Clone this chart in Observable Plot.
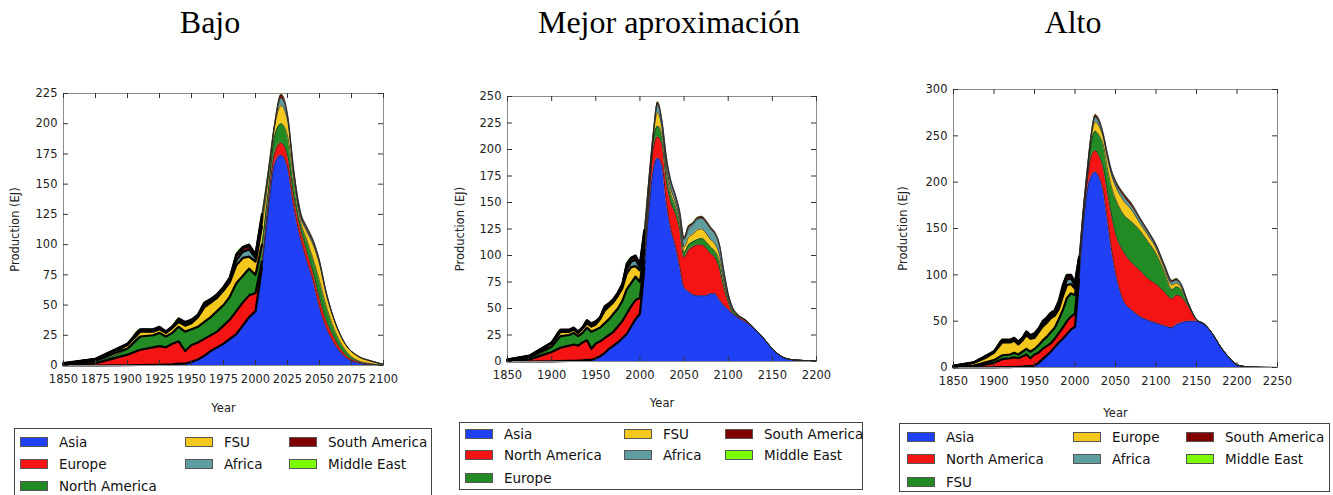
<!DOCTYPE html>
<html><head><meta charset="utf-8">
<script src="https://cdn.jsdelivr.net/npm/d3@7"></script>
<script src="https://cdn.jsdelivr.net/npm/@observablehq/plot@0.6"></script>
<style>
body{margin:0;background:#fff;width:1333px;height:495px;position:relative;overflow:hidden;font-family:"DejaVu Sans",sans-serif;}
.title{position:absolute;font-family:"Liberation Serif","Times New Roman",serif;font-size:32px;line-height:32px;color:#000;transform:translateX(-50%);white-space:nowrap;}
.panel{position:absolute;}
.legend{position:absolute;border:1px solid #444;background:#fff;box-sizing:border-box;}
.item{position:absolute;display:flex;align-items:center;font-size:13.5px;color:#111;white-space:nowrap;transform:translateY(-50%);}
.sw{width:28px;height:10px;border:1px solid #555;box-sizing:border-box;margin-right:11px;}
</style>
</head><body>
<script>
// ---------- shared ----------
const layerColors = ["#2040f5", "#f51414", "#238b23", "#f5c81e", "#5f9ea0", "#800000", "#7cfc00"];
const titles = ["Bajo", "Mejor aproximación", "Alto"];
const xLabel = "Year";
const yLabel = "Production (EJ)";

// ---------- Bajo ----------
const bajoNames = ["Asia", "Europe", "North America", "FSU", "Africa", "South America", "Middle East"];
const bajoYears = [1850,1875,1900,1910,1920,1925,1930,1935,1940,1945,1950,1955,1960,1965,1970,1975,1980,1985,1990,1995,2000,2005,2010,2015,2020,2025,2030,2035,2040,2045,2050,2055,2060,2070,2080,2090,2100];
const bajoAsia = [0,0,0.2,0.4,0.5,0.6,0.8,1,1.5,1.5,3,5,8,12,15,18,22,26,33,40,45,81,128,167,174,164,131,106,87,70,48,32,21,7,2,0.5,0];
const bajoEurope = [0.5,2,8.8,12.6,14.5,15.4,14.2,17,18.5,10.5,14,14,14,13,13,15,16,19,19,18,15,5,7,9,10,10,9,8,8,7,8,6,5,2,1,0.5,0];
const bajoNorthAmerica = [0.5,2,5,11,10,11,9,9,12,16,13,13,14,15,17,17,19,23,22,22,15,14,10,14,16,16,12,6,9,11,14,12,8,4,1,0.5,0.3];
const bajoFSU = [0.5,1,3,4,3,3,3,4,4,5,5,8,12,12,11,12,12,15,15,10,11,15,10,8,15,13,5,4,7,12,14,10,8,5,3.5,2,0.7];
const bajoAfrica = [0.1,0.2,0.5,1,1,1,0.5,0.5,1,1,1,0.5,1.5,1,1,1,2,4,5,6,3,5,3,1,6,3,2,2,2,2,1.5,1,0.5,0,0.3,0.3,0];
const bajoSouthAmerica = [0.2,0.2,0.3,0.5,0.5,0.5,0.5,0.5,1,1,1,1,1.5,1.5,1.5,1.5,1.5,3.5,3,3,2,3,2,1,3,1.5,1.5,1.5,1.5,1.5,1,0.7,0.3,0,0.1,0.1,0];
const bajoMiddleEast = [0.2,0.1,0.2,0.5,0.5,0.5,0.3,0.3,1,1,1,0.5,1,0.5,0.5,0.5,0.5,1.5,1,1,1,2,1,0.5,0.5,0.5,0.5,0.5,0.5,0.5,0.5,0.3,0.2,0.2,0.1,0.1,0];
const bajoXTicks = [1850,1875,1900,1925,1950,1975,2000,2025,2050,2075,2100];
const bajoYTicks = [0,25,50,75,100,125,150,175,200,225];

// ---------- Mejor aproximación ----------
const mejorNames = ["Asia", "North America", "Europe", "FSU", "Africa", "South America", "Middle East"];
const mejorYears = [1850,1875,1900,1910,1920,1925,1930,1935,1940,1945,1950,1955,1960,1965,1970,1975,1980,1985,1990,1995,2000,
  2005,2010,2015,2020,2025,2030,2035,2040,2045,2050,2055,2060,2065,2070,2075,2080,2085,2090,2095,2100,2105,2110,2120,2130,2140,2150,2160,2170,2180,2190,2200];
const mejorAsia = [0,0,0.2,0.4,0.5,0.6,0.8,1,1.5,1.5,3,5,8,12,15,18,22,26,33,40,45,
  88,140,180,192,185,150,125,110,90,70,66,63,62,62,62,64,64,58,53,49,45,42,37,30.5,22,12,5,2,1.2,0.7,0.3];
const mejorNorthAmerica = [0.5,2,8.8,12.6,14.5,15.4,14.2,17,18.5,10.5,14,14,14,13,13,15,16,19,19,18,15,
  7,10,20,20,20,20,25,30,35,28,39,45,48,48,45,38,34,30,17,7,1,1,1.5,0.2,0,0,0,0,0,0,0];
const mejorEurope = [0.5,2,5,11,10,11,9,9,12,16,13,13,14,15,17,17,19,23,22,22,15,
  10,8,8,10,9,8,8,7,6,5,5,5,5,6,6,6,6,7,5,3,2,1,0.2,0.1,0,0,0,0,0,0,0];
const mejorFSU = [0.5,1,3,4,3,3,3,4,4,5,5,8,12,12,11,12,12,15,15,10,11,
  7,5,4,13,6,6,5,4,4,5,7,7,9,9,8,7,7,6,4,2,1,0.5,0.1,0.1,0,0,0,0,0,0,0];
const mejorAfrica = [0.1,0.2,0.5,1,1,1,0.5,0.5,1,1,1,0.5,1.5,1,1,1,2,4,5,6,3,
  6,4,1,7,5,6,6,5,5,7,8,9,10,10,10,10,9,8,6,2,1.5,0.3,0.1,0.1,0,0,0,0,0,0,0];
const mejorSouthAmerica = [0.2,0.2,0.3,0.5,0.5,0.5,0.5,0.5,1,1,1,1,1.5,1.5,1.5,1.5,1.5,3.5,3,3,2,
  4,3,1,2.5,1.5,2.5,1.5,1.5,1.5,1.5,2.5,1.5,1.5,1.5,1.5,1.5,1.5,1.5,0.7,0.7,0.3,0.1,0.1,0,0,0,0,0,0,0,0];
const mejorMiddleEast = [0.2,0.1,0.2,0.5,0.5,0.5,0.3,0.3,1,1,1,0.5,1,0.5,0.5,0.5,0.5,1.5,1,1,1,
  2,1,1,0.5,0.5,0.5,0.5,0.5,0.5,0.5,0.5,0.5,0.5,0.5,0.5,0.5,0.5,0.5,0.3,0.3,0.2,0.1,0,0,0,0,0,0,0,0,0];
const mejorXTicks = [1850,1900,1950,2000,2050,2100,2150,2200];
const mejorYTicks = [0,25,50,75,100,125,150,175,200,225,250];

// ---------- Alto ----------
const altoNames = ["Asia", "North America", "FSU", "Europe", "Africa", "South America", "Middle East"];
const altoYears = [1850,1875,1900,1910,1920,1925,1930,1935,1940,1945,1950,1955,1960,1965,1970,1975,1980,1985,1990,1995,2000,
  2005,2010,2015,2020,2025,2030,2035,2040,2045,2050,2060,2070,2080,2090,2100,2110,2120,2125,2130,2140,2150,2160,2170,2180,2190,2200,2210,2220,2250];
const altoAsia = [0,0,0.2,0.4,0.5,0.6,0.8,1,1.5,1.5,2,5,9,13,17,22,27,31,36,41,44,
  95,150,190,206,211,205,190,160,128,103,72,62,55,51,48,45,43,46,48,50,50,46,36,22,11,3,1,0.4,0];
const altoNorthAmerica = [0.3,1,4.8,8.6,9.5,10.4,9.2,11,12.5,8.5,12,11,11,10,9,9,10,12,14,14,14,
  13,8,10,22,23,23,25,30,37,42,53,51,50,45,42,37,31,32,29,16,1,0.3,0,0,0,0,0,0,0];
const altoFSU = [0.2,1,3,4,4,5,4,5,6,7,6,8,9,10,12,12,15,19,25,25,20,
  4,4,5,14,21,22,25,25,30,37,40,44,43,40,33,22,10,9,8,2,0.5,0.2,0,0,0,0,0,0,0];
const altoEurope = [1,3,8,14,13,13,11,12,15,14,12,14,15,15,15,13,11,15,14,10,7,
  3,3,4,6,10,10,8,11,13,14,15,13,8,7,6,4,5,4,3,0.5,0.2,0.1,0,0,0,0,0,0,0];
const altoAfrica = [0.1,0.2,0.5,1.5,1.5,1.5,1.5,1.5,2,2,2,1.5,2,2,2,2.5,3.5,5,6,6,3,
  2,2,2,2,5,4,2,3,3,3.5,5,4,4,3,2.5,2.5,3,3,2.5,0.3,0.1,0.1,0,0,0,0,0,0,0];
const altoSouthAmerica = [0.2,0.2,0.5,1,1,1,1,1,1,1.5,1.5,1.5,2,2,2.5,2,3,4,3.5,3,2.5,
  1.5,1.5,1.5,1.5,2.5,2.5,1.5,1.5,1.5,2,2.5,2.5,1.5,1.5,1,1,1.5,1.5,1,0.2,0.1,0.1,0,0,0,0,0,0,0];
const altoMiddleEast = [0.2,0.1,0.5,0.5,0.5,0.5,0.5,0.5,1,0.5,1.5,1,2,2,1.5,1.5,2.5,3,1.5,1,1.5,
  0.5,0.5,0.5,0.5,0.5,0.5,0.5,0.5,0.5,0.5,0.5,0.5,0.5,0.5,0.5,0.5,0.5,0.5,0.5,0,0.1,0.2,0,0,0,0,0,0,0];
const altoXTicks = [1850,1900,1950,2000,2050,2100,2150,2200,2250];
const altoYTicks = [0,50,100,150,200,250,300];

// ---------- drawing ----------
function makePanel(cfg) {
  const rows = [];
  cfg.years.forEach((yr, i) => cfg.series.forEach((s, j) => rows.push({year: yr, region: cfg.names[j], value: s[i]})));
  const hist = rows.filter(d => d.year <= 2005);
  const order = cfg.names;
  const innerH = cfg.height - cfg.mt - cfg.mb;
  const innerW = cfg.width - cfg.ml - cfg.mr;
  const svg = Plot.plot({
    width: cfg.width, height: cfg.height,
    marginLeft: cfg.ml, marginRight: cfg.mr, marginTop: cfg.mt, marginBottom: cfg.mb,
    x: {domain: [cfg.xTicks[0], cfg.xTicks[cfg.xTicks.length - 1]]},
    y: {domain: [cfg.yTicks[0], cfg.yTicks[cfg.yTicks.length - 1]]},
    color: {domain: order, range: layerColors},
    style: {fontFamily: "DejaVu Sans, sans-serif", fontSize: "11.5px", color: "#222", background: "transparent"},
    marks: [
      Plot.areaY(rows, Plot.stackY({x: "year", y: "value", z: "region", fill: "region", order, curve: "monotone-x"})),
      Plot.lineY(rows, Plot.stackY2({x: "year", y: "value", z: "region", order, stroke: "#222", strokeWidth: 0.7, curve: "monotone-x"})),
      Plot.lineY(hist, Plot.stackY2({x: "year", y: "value", z: "region", order, stroke: "#000", strokeWidth: 2.2, curve: "linear"})),
      Plot.frame({stroke: "#8c8c8c"}),
      Plot.ruleX(cfg.xTicks, {x: d => d, insetTop: innerH - 5, stroke: "#333"}),
      Plot.ruleX(cfg.xTicks, {x: d => d, insetBottom: innerH - 5, stroke: "#333"}),
      Plot.ruleY(cfg.yTicks, {y: d => d, insetRight: innerW - 5, stroke: "#333"}),
      Plot.ruleY(cfg.yTicks, {y: d => d, insetLeft: innerW - 5, stroke: "#333"}),
      Plot.axisX({ticks: cfg.xTicks, tickSize: 0, tickPadding: 9, tickFormat: d => String(d), label: xLabel, labelAnchor: "center", labelArrow: "none", labelOffset: cfg.xlo}),
      Plot.axisY({ticks: cfg.yTicks, tickSize: 0, tickPadding: 6, label: yLabel, labelAnchor: "center", labelArrow: "none", labelOffset: cfg.ylo})
    ]
  });
  const div = document.createElement("div");
  div.className = "panel";
  div.style.left = cfg.left + "px";
  div.style.top = cfg.top + "px";
  div.appendChild(svg);
  document.body.appendChild(div);
}

function makeLegend(cfg) {
  const box = document.createElement("div");
  box.className = "legend";
  Object.assign(box.style, {left: cfg.left + "px", top: cfg.top + "px", width: cfg.w + "px", height: cfg.h + "px"});
  const colOf = [0, 0, 0, 1, 1, 2, 2], rowOf = [0, 1, 2, 0, 1, 0, 1];
  cfg.names.forEach((name, i) => {
    const it = document.createElement("div");
    it.className = "item";
    it.style.left = cfg.cols[colOf[i]] + "px";
    it.style.top = cfg.rows[rowOf[i]] + "px";
    const sw = document.createElement("div");
    sw.className = "sw";
    sw.style.background = layerColors[i];
    const tx = document.createElement("span");
    tx.textContent = name;
    it.appendChild(sw); it.appendChild(tx);
    box.appendChild(it);
  });
  document.body.appendChild(box);
}

function makeTitle(text, cx) {
  const t = document.createElement("div");
  t.className = "title";
  t.style.left = cx + "px";
  t.style.top = "6px";
  t.textContent = text;
  document.body.appendChild(t);
}

makeTitle(titles[0], 210);
makeTitle(titles[1], 669);
makeTitle(titles[2], 1073);

makePanel({left: 0, top: 80, width: 400, height: 345, ml: 63, mr: 17, mt: 13, mb: 60, xlo: 46, ylo: 53,
  names: bajoNames, years: bajoYears, xTicks: bajoXTicks, yTicks: bajoYTicks,
  series: [bajoAsia, bajoEurope, bajoNorthAmerica, bajoFSU, bajoAfrica, bajoSouthAmerica, bajoMiddleEast]});
makePanel({left: 440, top: 80, width: 400, height: 345, ml: 67, mr: 24, mt: 16, mb: 64, xlo: 45, ylo: 52,
  names: mejorNames, years: mejorYears, xTicks: mejorXTicks, yTicks: mejorYTicks,
  series: [mejorAsia, mejorNorthAmerica, mejorEurope, mejorFSU, mejorAfrica, mejorSouthAmerica, mejorMiddleEast]});
makePanel({left: 880, top: 70, width: 453, height: 360, ml: 73, mr: 56, mt: 19, mb: 63, xlo: 49, ylo: 55,
  names: altoNames, years: altoYears, xTicks: altoXTicks, yTicks: altoYTicks,
  series: [altoAsia, altoNorthAmerica, altoFSU, altoEurope, altoAfrica, altoSouthAmerica, altoMiddleEast]});

makeLegend({left: 14, top: 428, w: 418, h: 80, cols: [5, 170, 274], rows: [13, 35, 57], names: bajoNames});
makeLegend({left: 459, top: 422, w: 404, h: 68, cols: [5, 164, 265], rows: [11, 32, 55], names: mejorNames});
makeLegend({left: 899, top: 423, w: 431, h: 69, cols: [7, 173, 286], rows: [13, 35, 58], names: altoNames});
</script>
</body></html>
